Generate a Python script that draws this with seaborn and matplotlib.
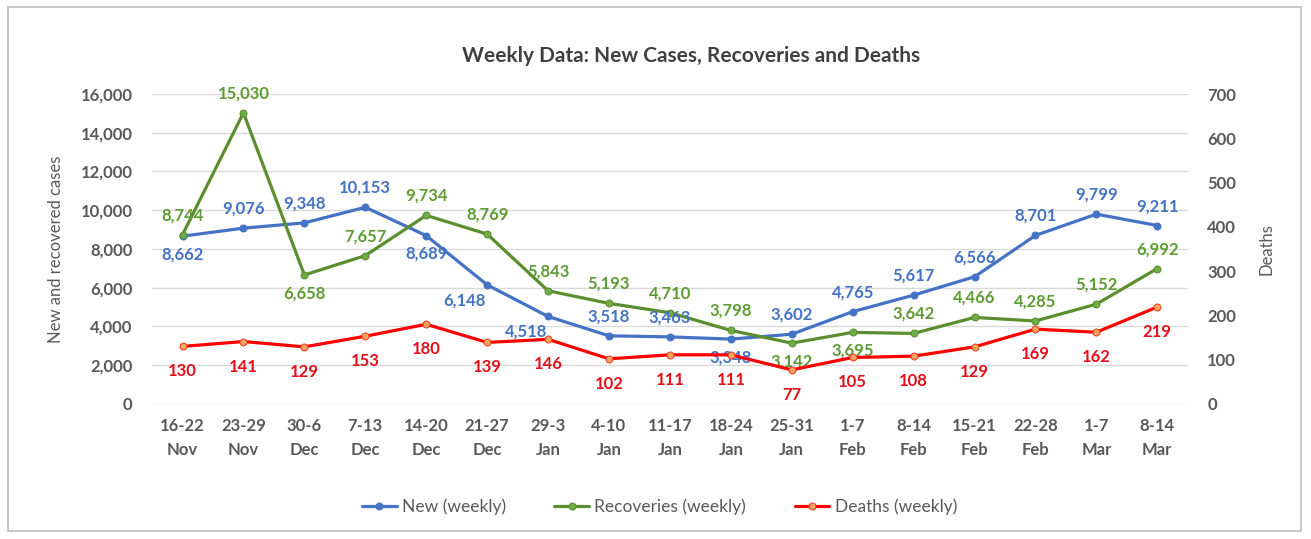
import matplotlib
matplotlib.use('Agg')
import matplotlib.pyplot as plt
import seaborn as sns
import pandas as pd
from matplotlib.patches import Rectangle

# data
weeks = ['16-22\nNov', '23-29\nNov', '30-6\nDec', '7-13\nDec', '14-20\nDec', '21-27\nDec',
         '29-3\nJan', '4-10\nJan', '11-17\nJan', '18-24\nJan', '25-31\nJan', '1-7\nFeb',
         '8-14\nFeb', '15-21\nFeb', '22-28\nFeb', '1-7\nMar', '8-14\nMar']
new_cases = [8662, 9076, 9348, 10153, 8689, 6148, 4518, 3518, 3463, 3348, 3602, 4765,
             5617, 6566, 8701, 9799, 9211]
recoveries = [8744, 15030, 6658, 7657, 9734, 8769, 5843, 5193, 4710, 3798, 3142, 3695,
              3642, 4466, 4285, 5152, 6992]
deaths = [130, 141, 129, 153, 180, 139, 146, 102, 111, 111, 77, 105, 108, 129, 169, 162, 219]

# where each value label sits: 'a' above, 'b' below, 'bl' below-left
new_pos = ['b', 'a', 'a', 'a', 'b', 'bl', 'bl', 'a', 'a', 'b', 'a', 'a', 'a', 'a', 'a', 'a', 'a']
rec_pos = ['a', 'a', 'b', 'a', 'a', 'a', 'a', 'a', 'a', 'a', 'b', 'b', 'a', 'a', 'a', 'a', 'a']

BLUE = '#4472C4'
GREEN = '#5E9B33'
GREEN_LINE = '#5B8E2E'
RED = '#FF0000'
RED_TXT = '#E3101A'
GREY = '#595959'

sns.set_theme(style='white')
plt.rcParams['font.family'] = ['Lato', 'DejaVu Sans']

df = pd.DataFrame({'x': range(len(weeks)), 'new': new_cases, 'rec': recoveries, 'deaths': deaths})

fig = plt.figure(figsize=(13.11, 5.39), dpi=100)
ax = fig.add_axes([0.116, 0.2505, 0.79, 0.5751])
ax2 = ax.twinx()

# chart border
fig.patches.append(Rectangle((0.006, 0.015), 0.986, 0.972, transform=fig.transFigure,
                             fill=False, edgecolor='#BFBFBF', linewidth=1.2))

sns.lineplot(data=df, x='x', y='new', ax=ax, color=BLUE, linewidth=2.3, marker='o',
             markersize=5, markeredgecolor=BLUE, sort=False, zorder=3)
sns.lineplot(data=df, x='x', y='rec', ax=ax, color=GREEN_LINE, linewidth=2.3, marker='o',
             markersize=5, markerfacecolor='#70AD47', markeredgecolor=GREEN_LINE, sort=False, zorder=3)
sns.lineplot(data=df, x='x', y='deaths', ax=ax2, color=RED, linewidth=2.3, marker='o',
             markersize=5, markerfacecolor='#F4A460', markeredgecolor='#F04020', sort=False, zorder=3)

ax.set_ylim(0, 16000)
ax2.set_ylim(0, 700)
ax.set_xlim(-0.5, len(weeks) - 0.5)
ax.set_yticks(range(0, 16001, 2000))
ax.set_yticklabels([f'{v:,}' for v in range(0, 16001, 2000)])
ax2.set_yticks(range(0, 701, 100))
ax.set_xticks(range(len(weeks)))
ax.set_xticklabels(weeks, linespacing=1.6)

for a in (ax, ax2):
    for s in a.spines.values():
        s.set_visible(False)
    a.tick_params(length=0, labelsize=12, labelcolor=GREY)
    for t in a.get_xticklabels() + a.get_yticklabels():
        t.set_fontweight('bold')
ax.tick_params(axis='x', pad=10)
ax.tick_params(axis='y', pad=14)
ax2.tick_params(axis='y', pad=14)
ax.yaxis.grid(True, color='#D9D9D9', linewidth=1)
ax.set_axisbelow(True)

ax.set_xlabel('')
ax.set_ylabel('New and recovered cases', fontsize=12, color=GREY, labelpad=12)
ax2.set_ylabel('Deaths', fontsize=12, color=GREY, labelpad=16)

offsets = {'a': (0, 14), 'b': (0, -13), 'bl': (-16, -11)}
for i in range(len(weeks)):
    dx, dy = offsets[new_pos[i]]
    ax.annotate(f'{new_cases[i]:,}', (i, new_cases[i]), xytext=(dx, dy), textcoords='offset points',
                ha='center', va='center', color=BLUE, fontsize=12, fontweight='bold', zorder=5)
    dx, dy = offsets[rec_pos[i]]
    ax.annotate(f'{recoveries[i]:,}', (i, recoveries[i]), xytext=(dx, dy), textcoords='offset points',
                ha='center', va='center', color=GREEN, fontsize=12, fontweight='bold', zorder=5)
    ax2.annotate(f'{deaths[i]}', (i, deaths[i]), xytext=(0, -18), textcoords='offset points',
                 ha='center', va='center', color=RED_TXT, fontsize=12, fontweight='bold', zorder=5)

fig.text(0.527, 0.897, 'Weekly Data: New Cases, Recoveries and Deaths', ha='center', va='center',
         fontsize=15, fontweight='bold', color='#404040')

handles = [ax.lines[0], ax.lines[1], ax2.lines[0]]
fig.legend(handles, ['New (weekly)', 'Recoveries (weekly)', 'Deaths (weekly)'],
           loc='center', bbox_to_anchor=(0.503, 0.06), ncol=3, frameon=False,
           fontsize=12.5, labelcolor=GREY, handlelength=2.0, columnspacing=2.8, handletextpad=0.3)

fig.savefig('out.png', dpi=100)
